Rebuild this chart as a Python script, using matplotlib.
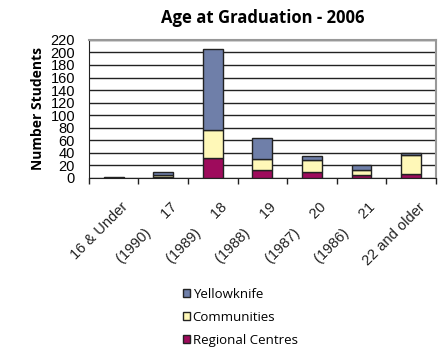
import matplotlib
matplotlib.use("Agg")
from matplotlib import pyplot as plt
from matplotlib import transforms
import numpy as np

# age groups (with birth year) of the 2006 graduates
categories = ["16 & Under", "(1990)     17", "(1989)     18", "(1988)     19",
              "(1987)     20", "(1986)     21", "22 and older"]
regional = [0, 2, 31, 12, 9, 5, 6]
communities = [0, 3, 45, 18, 19, 8, 31]
yellowknife = [1, 5, 130, 33, 7, 7, 3]

c_regional = "#9E0B5C"
c_communities = "#FFF8B8"
c_yellowknife = "#6F7FA9"

fig = plt.figure(figsize=(4.38, 3.5), dpi=100)
ax = fig.add_axes([0.203, 0.492, 0.792, 0.394])

x = np.arange(len(categories))
w = 0.4
bot2 = np.array(regional)
bot3 = bot2 + np.array(communities)
ax.bar(x, regional, w, color=c_regional, edgecolor="#222222", linewidth=1, label="Regional Centres", zorder=3)
ax.bar(x, communities, w, bottom=bot2, color=c_communities, edgecolor="#222222", linewidth=1, label="Communities", zorder=3)
ax.bar(x, yellowknife, w, bottom=bot3, color=c_yellowknife, edgecolor="#222222", linewidth=1, label="Yellowknife", zorder=3)

ax.set_xlim(-0.5, len(categories) - 0.5)
ax.set_ylim(0, 220)
ax.set_yticks(range(0, 221, 20))
ax.tick_params(axis="y", length=0, pad=10, labelsize=10.5)
for lab in ax.get_yticklabels():
    lab.set_family("Liberation Sans")

# labels at the bar centres, tick marks between the categories
ax.set_xticks(x)
ax.set_xticklabels(categories, rotation=45, ha="right", rotation_mode="anchor",
                   fontsize=10.5, family="Liberation Sans", color="#222222")
ax.tick_params(axis="x", which="major", length=0, pad=16)
shift = transforms.ScaledTranslation(5 / 72, 0, fig.dpi_scale_trans)
for lab in ax.get_xticklabels():
    lab.set_transform(lab.get_transform() + shift)
ax.set_xticks(np.arange(-0.5, len(categories), 1), minor=True)
ax.tick_params(axis="x", which="minor", length=4, width=1, direction="out", color="#222222")

# horizontal grid lines
ax.grid(axis="y", color="#222222", linewidth=1, zorder=0)
ax.set_axisbelow(True)

ax.spines["left"].set_color("#222222")
ax.spines["bottom"].set_color("#222222")
ax.spines["top"].set_color("#999999")
ax.spines["right"].set_color("#999999")
ax.spines["top"].set_linewidth(1.5)
ax.spines["right"].set_linewidth(1.5)

ax.set_ylabel("Number Students", fontsize=10, fontweight="bold", family="Open Sans", labelpad=4)
ax.set_title("Age at Graduation - 2006", fontsize=12, fontweight="bold", family="Open Sans", pad=12)

handles, labels = ax.get_legend_handles_labels()
fig.legend(handles[::-1], labels[::-1], loc="upper left", bbox_to_anchor=(0.405, 0.193),
           frameon=False, prop={"family": "Open Sans", "size": 9.5},
           handlelength=0.55, handleheight=0.55, handletextpad=0.2, labelspacing=0.75,
           borderaxespad=0)

plt.savefig("out.png", dpi=100)
